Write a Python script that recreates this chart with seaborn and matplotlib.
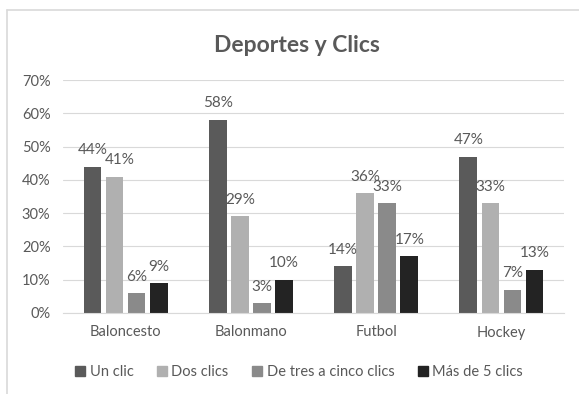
import matplotlib
matplotlib.use("Agg")
import matplotlib.pyplot as plt
from matplotlib.lines import Line2D
import seaborn as sns
import pandas as pd

# ---- data ----
deportes = ["Baloncesto", "Balonmano", "Futbol", "Hockey"]
series = ["Un clic", "Dos clics", "De tres a cinco clics", "Más de 5 clics"]
un_clic = [0.44, 0.58, 0.14, 0.47]
dos_clics = [0.41, 0.29, 0.36, 0.33]
tres_cinco = [0.06, 0.03, 0.33, 0.07]
mas_cinco = [0.09, 0.10, 0.17, 0.13]
y_ticks = [0.0, 0.1, 0.2, 0.3, 0.4, 0.5, 0.6, 0.7]
y_tick_labels = ["0%", "10%", "20%", "30%", "40%", "50%", "60%", "70%"]
colors = ["#5a5a5a", "#b0b0b0", "#8a8a8a", "#232323"]

values = [un_clic, dos_clics, tres_cinco, mas_cinco]
rows = []
for s, vals in zip(series, values):
    for d, v in zip(deportes, vals):
        rows.append({"Deporte": d, "Clics": s, "Valor": v})
df = pd.DataFrame(rows)

sns.set_theme(style="white")
plt.rcParams["font.family"] = ["Lato", "DejaVu Sans"]
txt = "#595959"

fig = plt.figure(figsize=(5.79, 3.94), dpi=100)
ax = fig.add_axes([63 / 579, 1 - 313 / 394, (564 - 63) / 579, (313 - 80) / 394])

sns.barplot(data=df, x="Deporte", y="Valor", hue="Clics", hue_order=series,
            order=deportes, palette=colors, width=0.705, gap=0.2,
            errorbar=None, saturation=1, ax=ax, legend=False, linewidth=0)

ax.set_ylim(0, 0.7)
ax.set_yticks(y_ticks)
ax.set_yticklabels(y_tick_labels)
ax.set_xlabel("")
ax.set_ylabel("")
ax.grid(axis="y", color="#d9d9d9", linewidth=0.8)
ax.set_axisbelow(True)
for sp in ["top", "right", "left"]:
    ax.spines[sp].set_visible(False)
ax.spines["bottom"].set_color("#d9d9d9")
ax.spines["bottom"].set_linewidth(0.8)
ax.tick_params(axis="both", length=0, colors=txt, labelsize=10.5)
ax.tick_params(axis="y", pad=9)
ax.tick_params(axis="x", pad=9)

# data labels
label_shift = {("Dos clics", "Baloncesto"): 4}
for s, cont in zip(series, ax.containers):
    for d, patch in zip(deportes, cont.patches):
        h = patch.get_height()
        xc = patch.get_x() + patch.get_width() / 2
        ax.annotate(f"{h * 100:.0f}%", (xc, h), xytext=(label_shift.get((s, d), 0), 9),
                    textcoords="offset points", ha="center", va="baseline",
                    fontsize=11, color=txt)

# title
fig.text(297 / 579, 1 - 52 / 394, "Deportes y Clics", ha="center", va="baseline",
         fontsize=16.5, fontweight="bold", color=txt)

# legend
handles = [plt.Rectangle((0, 0), 1, 1, color=c) for c in colors]
fig.legend(handles, series, loc="center", bbox_to_anchor=(299 / 579, 1 - 372 / 394),
           ncol=4, frameon=False, fontsize=10.5, handlelength=0.7, handleheight=0.7,
           handletextpad=0.3, columnspacing=1.6, labelcolor=txt)

# chart border (partial frame)
fig.add_artist(Line2D([7 / 579, 1], [1 - 10 / 394, 1 - 10 / 394], color="#d9d9d9", lw=1.2,
                      transform=fig.transFigure))
fig.add_artist(Line2D([7 / 579, 7 / 579], [0, 1 - 10 / 394], color="#d9d9d9", lw=1.2,
                      transform=fig.transFigure))

fig.savefig("out.png", dpi=100)
